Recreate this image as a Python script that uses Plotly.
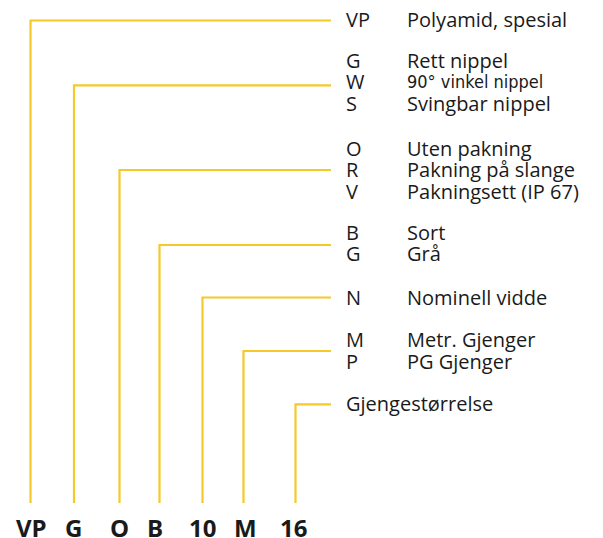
import plotly.graph_objects as go

# ---- data ----
segments = ["VP", "G", "O", "B", "10", "M", "16"]
option_codes = [["VP"], ["G", "W", "S"], ["O", "R", "V"], ["B", "G"], ["N"], ["M", "P"], [""]]
option_texts = [
    ["Polyamid, spesial"],
    ["Rett nippel", "90° vinkel nippel", "Svingbar nippel"],
    ["Uten pakning", "Pakning på slange", "Pakningsett (IP 67)"],
    ["Sort", "Grå"],
    ["Nominell vidde"],
    ["Metr. Gjenger", "PG Gjenger"],
    ["Gjengestørrelse"],
]

# ---- layout constants (pixels, page coordinates) ----
W, H = 603, 538
PAGE_MARGIN = 8  # browser body margin around the plot div
seg_x = [30.5, 74, 119.5, 159.5, 202.5, 243.5, 295.5]
line_y = [20.5, 85.3, 170, 245, 297.5, 351, 404.3]
first_row_y = [19, 60, 148, 232, 297, 339.5, 403.5]
row_gap = 21.5
line_end_x = 331
line_bottom = 503
code_x = 344
desc_x = 405
label_x = [31, 73.5, 119, 155, 202, 245, 293.5]
label_y = 527
YELLOW = "#F5C92A"
TXT = "#1a1a1a"
FONT = "Open Sans, Noto Sans, sans-serif"
NARROW = "DejaVu Sans Condensed, Liberation Sans Narrow, sans-serif"

fig = go.Figure()
for i, seg in enumerate(segments):
    fig.add_trace(go.Scatter(
        x=[seg_x[i], seg_x[i], line_end_x],
        y=[line_bottom, line_y[i], line_y[i]],
        mode="lines", line=dict(color=YELLOW, width=2.2),
        hoverinfo="skip", showlegend=False))
    fig.add_annotation(x=label_x[i], y=label_y, text="<b>%s</b>" % seg,
                       showarrow=False, xanchor="center", yanchor="middle",
                       font=dict(family=FONT, size=24, color=TXT))
    for j, (c, t) in enumerate(zip(option_codes[i], option_texts[i])):
        yy = first_row_y[i] + j * row_gap
        if c:
            fig.add_annotation(x=code_x, y=yy, text=c, showarrow=False,
                               xanchor="left", yanchor="middle",
                               font=dict(family=FONT, size=20, color=TXT))
            dx = desc_x
        else:
            dx = code_x
        narrow = t.startswith("90°")
        fig.add_annotation(x=dx, y=yy, text=t, showarrow=False,
                           xanchor="left", yanchor="middle",
                           font=dict(family=(NARROW if narrow else FONT),
                                     size=18 if narrow else 20, color=TXT))

fig.update_layout(
    width=W - PAGE_MARGIN, height=H - PAGE_MARGIN,
    margin=dict(l=0, r=0, t=0, b=0, pad=0),
    paper_bgcolor="white", plot_bgcolor="white",
    xaxis=dict(range=[PAGE_MARGIN, W], visible=False, fixedrange=True),
    yaxis=dict(range=[H, PAGE_MARGIN], visible=False, fixedrange=True),
)
fig.write_html("out.html")
